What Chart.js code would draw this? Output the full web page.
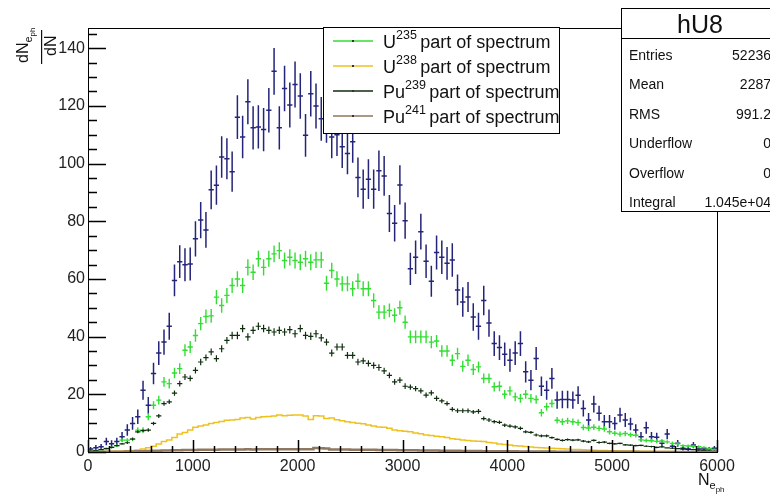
<!DOCTYPE html>
<html>
<head>
<meta charset="utf-8">
<script src="https://cdn.jsdelivr.net/npm/chart.js@4.4.1/dist/chart.umd.min.js"></script>
<style>
  html, body { margin: 0; padding: 0; background: #fff; }
  #wrap { width: 770px; height: 495px; }
</style>
</head>
<body>
<div id="wrap"><canvas id="chart" width="770" height="495"></canvas></div>
<script>
// histogram binning
const xRange = [0, 6000];
const nBins = 120;
const xTicks = [0, 1000, 2000, 3000, 4000, 5000, 6000];
const yTicks = [0, 20, 40, 60, 80, 100, 120, 140];
const yMax = 147;

// hU8 (total), bin contents and errors
const totalCounts = [
  1, 1.5, 1.8, 3.6, 2.9, 3.6, 5.3, 7.6, 9.9, 12.2,
  21.4, 16.2, 27.2, 34.3, 38.1, 43.6, 59.5, 66, 64.9, 65.2,
  73.9, 80.4, 77, 90.9, 92.5, 102.3, 101.7, 97.2, 116.1, 109.2,
  121.4, 112.4, 112.7, 111.8, 118.5, 132, 112.4, 126, 120.3, 127.4,
  123.4, 109.8, 124.2, 120, 115.5, 114.8, 109.2, 110, 105.8, 103.5,
  107.6, 95.2, 91.1, 94.6, 91.1, 97.5, 95.7, 82.7, 79.3, 92.6,
  80.2, 63.5, 67.5, 76.4, 66.1, 59.2, 69.2, 67.5, 65.4, 66.6,
  56.2, 52, 53.7, 46.8, 43.6, 52.5, 44.7, 37.6, 36.2, 33.9,
  31.8, 34.3, 37.6, 27.8, 24.9, 32.4, 22.8, 21.4, 25.5, 18,
  18.2, 18.2, 18, 19.7, 15.1, 11.1, 16.6, 13.4, 10.5, 10.5,
  9.9, 12.8, 11.1, 9.7, 7.6, 5.3, 8.4, 5.3, 5.1, 3,
  6.2, 2, 3, 1.3, 1, 2.4, 1, 1, 1, 1.3
];
const totalErrors = [
  0.7, 0.9, 1.0, 1.3, 1.2, 1.3, 1.6, 2.0, 2.2, 2.5,
  3.3, 2.9, 3.7, 4.1, 4.4, 4.7, 5.5, 5.7, 5.7, 5.7,
  6.1, 6.3, 6.2, 6.7, 6.8, 7.2, 7.1, 7.0, 7.6, 7.4,
  7.8, 7.5, 7.5, 7.5, 7.7, 8.1, 7.5, 7.9, 7.8, 8.0,
  7.9, 7.4, 7.9, 7.8, 7.6, 7.6, 7.4, 7.4, 7.3, 7.2,
  7.3, 6.9, 6.8, 6.9, 6.8, 7.0, 6.9, 6.4, 6.3, 6.8,
  6.3, 5.6, 5.8, 6.2, 5.8, 5.4, 5.9, 5.8, 5.7, 5.8,
  5.3, 5.1, 5.2, 4.8, 4.7, 5.1, 4.7, 4.3, 4.3, 4.1,
  4.0, 4.1, 4.3, 3.7, 3.5, 4.0, 3.4, 3.3, 3.6, 3.0,
  3.0, 3.0, 3.0, 3.1, 2.8, 2.4, 2.9, 2.6, 2.3, 2.3,
  2.2, 2.5, 2.4, 2.2, 2.0, 1.6, 2.1, 1.6, 1.6, 1.2,
  1.8, 1.0, 1.2, 0.8, 0.7, 1.1, 0.7, 0.7, 0.7, 0.8
];

// U235 part
const u235 = [
  0.3, 0.5, 0.8, 1.2, 1.6, 2.2, 4.1, 4.1, 4.4, 7.6,
  7.6, 12.2, 16.2, 18, 24.3, 23.7, 27.4, 28.9, 35.3, 36.4,
  40.4, 44.5, 47, 47.2, 53.7, 50.8, 54.3, 57.7, 60, 57.7,
  64, 62.3, 67, 64, 67, 68.7, 69.8, 66.4, 67.5, 66.4,
  65.8, 67, 65.8, 66.6, 66.6, 58.5, 62.9, 60, 58.3, 58.3,
  56.6, 59.2, 56.6, 56.6, 52.5, 48.5, 48.5, 49.1, 47.4, 50,
  45, 39.9, 39.9, 39.9, 39.9, 38.1, 38.5, 35, 35, 31.8,
  34.1, 29.7, 31.8, 28.6, 29.5, 25.5, 25.5, 22.6, 22.8, 20,
  21.2, 19.1, 18.6, 20, 18.6, 18.2, 13.6, 15.7, 16.8, 11,
  10.5, 10.8, 10.5, 10.2, 8.5, 8.3, 8.6, 8.2, 8, 7,
  6.5, 6.2, 6.4, 6, 5.8, 4.2, 4, 3.9, 3.7, 3.8,
  3.5, 3, 2.8, 2.2, 2.1, 2, 1.8, 1.6, 1.2, 0.9
];
const u235Errors = [
  0.2, 0.2, 0.3, 0.4, 0.4, 0.5, 0.7, 0.7, 0.7, 1.0,
  1.0, 1.2, 1.4, 1.5, 1.7, 1.7, 1.8, 1.9, 2.1, 2.1,
  2.2, 2.3, 2.4, 2.4, 2.5, 2.5, 2.6, 2.6, 2.7, 2.6,
  2.8, 2.7, 2.8, 2.8, 2.8, 2.9, 2.9, 2.8, 2.8, 2.8,
  2.8, 2.8, 2.8, 2.8, 2.8, 2.6, 2.7, 2.7, 2.6, 2.6,
  2.6, 2.7, 2.6, 2.6, 2.5, 2.4, 2.4, 2.4, 2.4, 2.4,
  2.3, 2.2, 2.2, 2.2, 2.2, 2.1, 2.1, 2.0, 2.0, 2.0,
  2.0, 1.9, 2.0, 1.9, 1.9, 1.7, 1.7, 1.6, 1.7, 1.5,
  1.6, 1.5, 1.5, 1.5, 1.5, 1.5, 1.3, 1.4, 1.4, 1.1,
  1.1, 1.1, 1.1, 1.1, 1.0, 1.0, 1.0, 1.0, 1.0, 0.9,
  0.9, 0.9, 0.9, 0.8, 0.8, 0.7, 0.7, 0.7, 0.7, 0.7,
  0.6, 0.6, 0.6, 0.5, 0.5, 0.5, 0.5, 0.4, 0.4, 0.3
];

// U238 part (histogram line)
const u238 = [
  0.05, 0.08, 0.1, 0.15, 0.2, 0.25, 0.3, 0.4, 0.5, 0.7,
  1, 1.5, 2, 2.8, 3.6, 4.2, 5, 6.2, 6.8, 7.6,
  8.6, 9, 9.4, 9.9, 10.2, 10.6, 11, 11.1, 11.3, 11.8,
  12, 11.4, 12, 12.2, 12.3, 12.5, 12.8, 12.6, 12.7, 12.8,
  12.8, 12.5, 11.3, 12.6, 12.5, 11.6, 11.8, 11.2, 10.8, 10.5,
  10.2, 10, 9.8, 9.4, 9, 8.7, 8.6, 8.2, 7.6, 7.4,
  7.2, 7, 6.6, 6.3, 5.9, 5.7, 5.5, 5.3, 5, 4.6,
  4.4, 4.2, 4, 3.8, 3.7, 3.6, 3.3, 3.1, 2.8, 2.6,
  2.4, 2.2, 2.1, 1.9, 1.7, 1.6, 1.5, 1.4, 1.3, 1.2,
  1.1, 1, 0.9, 0.85, 0.8, 0.7, 0.6, 0.55, 0.5, 0.45,
  0.4, 0.38, 0.35, 0.32, 0.3, 0.28, 0.25, 0.22, 0.2, 0.18,
  0.16, 0.15, 0.13, 0.12, 0.1, 0.09, 0.08, 0.07, 0.06, 0.05
];

// Pu239 part
const pu239 = [
  0.3, 0.5, 0.8, 1.2, 1.6, 2.2, 2.8, 3.2, 4.5, 7,
  7.4, 7.6, 9.9, 12.5, 16.8, 17.4, 20.4, 23.7, 26, 25.5,
  28.3, 31.2, 32.7, 34.7, 32.4, 35.8, 38.7, 40.4, 40.4, 42.8,
  39.9, 42.2, 43.6, 42.8, 42.2, 41.6, 42.2, 41.6, 42.4, 41,
  42.8, 40.4, 40.1, 41, 39.6, 38.1, 34.3, 36.4, 36.4, 33.5,
  33.5, 31.2, 31.6, 30.7, 30, 29.3, 28.1, 26.6, 24.3, 24.9,
  22.8, 22.5, 22, 21.2, 19.7, 20.5, 18.6, 17.7, 16.8, 14.8,
  14.3, 14.3, 14.3, 13.9, 14.1, 11.6, 11.1, 10.5, 10.3, 9.3,
  9, 8.7, 8.2, 7, 6.8, 5.9, 5.6, 5.6, 5, 4.4,
  4, 4.3, 4.1, 4.2, 3.8, 3.5, 4, 3.3, 3.4, 3,
  2.8, 3, 2.5, 2.4, 2.2, 2.3, 2, 1.9, 1.6, 1.8,
  1.4, 1.3, 1.2, 1, 0.9, 0.8, 0.6, 0.5, 0.4, 0.3
];
const pu239Errors = [
  0.1, 0.1, 0.2, 0.2, 0.3, 0.3, 0.3, 0.4, 0.4, 0.5,
  0.5, 0.6, 0.6, 0.7, 0.8, 0.8, 0.9, 1.0, 1.0, 1.0,
  1.1, 1.1, 1.1, 1.2, 1.1, 1.2, 1.2, 1.3, 1.3, 1.3,
  1.3, 1.3, 1.3, 1.3, 1.3, 1.3, 1.3, 1.3, 1.3, 1.3,
  1.3, 1.3, 1.3, 1.3, 1.3, 1.2, 1.2, 1.2, 1.2, 1.2,
  1.2, 1.1, 1.1, 1.1, 1.1, 1.1, 1.1, 1.0, 1.0, 1.0,
  1.0, 0.9, 0.9, 0.9, 0.9, 0.9, 0.9, 0.8, 0.8, 0.8,
  0.8, 0.8, 0.8, 0.7, 0.8, 0.7, 0.7, 0.6, 0.6, 0.6,
  0.6, 0.6, 0.6, 0.5, 0.5, 0.5, 0.5, 0.5, 0.4, 0.4,
  0.4, 0.4, 0.4, 0.4, 0.4, 0.4, 0.4, 0.4, 0.4, 0.3,
  0.3, 0.3, 0.3, 0.3, 0.3, 0.3, 0.3, 0.3, 0.3, 0.3,
  0.2, 0.2, 0.2, 0.2, 0.2, 0.2, 0.2, 0.1, 0.1, 0.1
];

// Pu241 part (histogram line)
const pu241 = [
  0.02, 0.03, 0.04, 0.05, 0.07, 0.09, 0.12, 0.15, 0.2, 0.25,
  0.3, 0.35, 0.4, 0.45, 0.5, 0.55, 0.6, 0.65, 0.68, 0.7,
  0.72, 0.75, 0.78, 0.8, 0.82, 0.84, 0.86, 0.88, 0.9, 0.9,
  0.92, 0.9, 0.93, 0.92, 0.94, 0.95, 0.93, 0.95, 0.94, 0.93,
  0.95, 0.92, 0.93, 1.4, 1.3, 1.2, 0.9, 0.88, 0.86, 0.84,
  0.82, 0.8, 0.78, 0.76, 0.74, 0.72, 0.7, 0.68, 0.66, 0.64,
  0.62, 0.6, 0.57, 0.55, 0.52, 0.5, 0.48, 0.46, 0.44, 0.42,
  0.4, 0.38, 0.36, 0.34, 0.32, 0.3, 0.28, 0.27, 0.26, 0.25,
  0.24, 0.22, 0.2, 0.19, 0.18, 0.17, 0.16, 0.15, 0.14, 0.13,
  0.12, 0.11, 0.1, 0.1, 0.09, 0.09, 0.08, 0.08, 0.07, 0.07,
  0.06, 0.06, 0.05, 0.05, 0.05, 0.04, 0.04, 0.04, 0.03, 0.03,
  0.03, 0.03, 0.02, 0.02, 0.02, 0.02, 0.01, 0.01, 0.01, 0.01
];

const legendEntries = [
  { base: "U", sup: "235", rest: "part of spectrum", color: "#33dd33" },
  { base: "U", sup: "238", rest: "part of spectrum", color: "#efc11f" },
  { base: "Pu", sup: "239", rest: "part of spectrum", color: "#0e2e0e" },
  { base: "Pu", sup: "241", rest: "part of spectrum", color: "#8f7760" },
];
const statsTitle = "hU8";
const statsRows = [
  ["Entries", "52236"],
  ["Mean", "2287"],
  ["RMS", "991.2"],
  ["Underflow", "0"],
  ["Overflow", "0"],
  ["Integral", "1.045e+04"],
];

const FONT = "'Liberation Sans', Arial, Helvetica, sans-serif";
const binWidth = (xRange[1] - xRange[0]) / nBins;

function crossData(values) {
    return values.map((v, i) => ({ x: xRange[0] + (i + 0.5) * binWidth, y: v }));
}

function stepData(values) {
    const pts = [];
    values.forEach((v, i) => {
        const lo = xRange[0] + i * binWidth;
        pts.push({ x: lo, y: v }, { x: lo + binWidth, y: v });
    });
    return pts;
}

// ROOT style error crosses: horizontal = bin width, vertical = +-error
const crosses = {
    id: "crosses",
    afterDatasetDraw(chart, args) {
        const ds = chart.data.datasets[args.index];
        if (!ds.errors) return;
        const { ctx, chartArea, scales } = chart;
        ctx.save();
        ctx.beginPath();
        ctx.rect(chartArea.left, chartArea.top, chartArea.right - chartArea.left, chartArea.bottom - chartArea.top);
        ctx.clip();
        ctx.strokeStyle = ds.borderColor;
        ctx.lineWidth = ds.crossWidth || 1;
        ctx.beginPath();
        ds.data.forEach((p, i) => {
            const px = scales.x.getPixelForValue(p.x);
            const py = scales.y.getPixelForValue(p.y);
            ctx.moveTo(scales.x.getPixelForValue(p.x - binWidth / 2), py);
            ctx.lineTo(scales.x.getPixelForValue(p.x + binWidth / 2), py);
            ctx.moveTo(px, scales.y.getPixelForValue(p.y - ds.errors[i]));
            ctx.lineTo(px, scales.y.getPixelForValue(p.y + ds.errors[i]));
        });
        ctx.stroke();
        ctx.restore();
    },
};

function subText(ctx, parts, x, y) {
    // parts: [text, size, dy]
    parts.forEach(([t, size, dy]) => {
        ctx.font = size + "px " + FONT;
        ctx.fillText(t, x, y + dy);
        x += ctx.measureText(t).width;
    });
    return x;
}

// frame, with axis ticks pointing into it as ROOT draws them
const rootTicks = {
    id: "rootTicks",
    afterDraw(chart) {
        const ctx = chart.ctx;
        const a = chart.chartArea;
        const xs = chart.scales.x, ys = chart.scales.y;
        ctx.save();
        ctx.strokeStyle = "#000";
        ctx.lineWidth = 1;
        ctx.strokeRect(Math.round(a.left) + 0.5, Math.round(a.top) + 0.5,
            Math.round(a.right - a.left), Math.round(a.bottom - a.top));
        ctx.lineWidth = 1.5;
        ctx.beginPath();
        for (let k = 0; k * 5 <= yMax; k++) {
            const py = Math.round(ys.getPixelForValue(k * 5)) + 0.5;
            ctx.moveTo(a.left, py);
            ctx.lineTo(a.left + (k % 4 === 0 ? 18 : 9), py);
        }
        for (let k = 0; k * 200 <= xRange[1]; k++) {
            const px = Math.round(xs.getPixelForValue(k * 200)) + 0.5;
            ctx.moveTo(px, a.bottom);
            ctx.lineTo(px, a.bottom - (k % 5 === 0 ? 12 : 6));
        }
        ctx.stroke();
        ctx.restore();
    },
};

const overlays = {
    id: "overlays",
    afterDraw(chart) {
        const ctx = chart.ctx;
        ctx.save();
        ctx.fillStyle = "#111";
        ctx.textBaseline = "alphabetic";
        ctx.textAlign = "left";

        // y axis title dN_{e_ph}/dN, rotated
        ctx.save();
        ctx.rotate(-Math.PI / 2);
        subText(ctx, [["dN", 16, 0], ["e", 11, 4], ["ph", 8, 7]], -63, 28);
        ctx.font = "16px " + FONT;
        ctx.fillText("dN", -56, 56);
        ctx.restore();
        ctx.fillRect(41, 30, 1.2, 34);

        // x axis title N_{e_ph}
        subText(ctx, [["N", 16, 0], ["e", 11, 4], ["ph", 8, 7]], 698, 485);

        // legend box
        ctx.fillStyle = "#fff";
        ctx.fillRect(324, 28, 235, 105);
        ctx.strokeStyle = "#000";
        ctx.lineWidth = 1;
        ctx.strokeRect(323.5, 27.5, 236, 106);
        legendEntries.forEach((e, i) => {
            const cy = 41 + i * 25;
            ctx.strokeStyle = e.color;
            ctx.lineWidth = 1.5;
            ctx.beginPath();
            ctx.moveTo(333, cy);
            ctx.lineTo(373, cy);
            ctx.stroke();
            ctx.fillStyle = "#333";
            ctx.fillRect(352, cy - 1, 2, 2);
            ctx.fillStyle = "#111";
            subText(ctx, [[e.base, 18, 0], [e.sup + " ", 12.5, -8.5], [e.rest, 18, 0]], 383, cy + 6.5);
        });

        // stats box
        ctx.fillStyle = "#fff";
        ctx.fillRect(622, 8, 160, 204);
        ctx.strokeStyle = "#000";
        ctx.lineWidth = 1;
        ctx.strokeRect(621.5, 8.5, 160, 203);
        ctx.beginPath();
        ctx.moveTo(622, 38.5);
        ctx.lineTo(772, 38.5);
        ctx.stroke();
        ctx.fillStyle = "#111";
        ctx.textAlign = "center";
        ctx.font = "25px " + FONT;
        ctx.fillText(statsTitle, 700, 33);
        ctx.font = "14px " + FONT;
        statsRows.forEach(([k, v], i) => {
            const by = 60 + i * 29.4;
            ctx.textAlign = "left";
            ctx.fillText(k, 629, by);
            ctx.textAlign = "right";
            ctx.fillText(v, 771, by);
        });
        ctx.restore();
    },
};

new Chart(document.getElementById("chart"), {
    type: "scatter",
    data: {
        datasets: [
            {
                label: "hU8",
                data: crossData(totalCounts),
                errors: totalErrors,
                borderColor: "#24247a",
                crossWidth: 1.5,
                pointRadius: 0,
                showLine: false,
                order: 5,
            },
            {
                label: "U235 part of spectrum",
                data: crossData(u235),
                errors: u235Errors,
                borderColor: "#33dd33",
                crossWidth: 1.4,
                pointRadius: 0,
                showLine: false,
                order: 4,
            },
            {
                label: "U238 part of spectrum",
                data: stepData(u238),
                borderColor: "#efc11f",
                borderWidth: 1.5,
                pointRadius: 0,
                showLine: true,
                order: 3,
            },
            {
                label: "Pu239 part of spectrum",
                data: crossData(pu239),
                errors: pu239Errors,
                borderColor: "#0e2e0e",
                crossWidth: 1.2,
                pointRadius: 0,
                showLine: false,
                order: 2,
            },
            {
                label: "Pu241 part of spectrum",
                data: stepData(pu241),
                borderColor: "#8f7760",
                borderWidth: 2.5,
                pointRadius: 0,
                showLine: true,
                order: 1,
            },
        ],
    },
    options: {
        responsive: false,
        animation: false,
        devicePixelRatio: 1,
        layout: { padding: { left: 18, top: 28, right: 53, bottom: 0 } },
        plugins: {
            legend: { display: false },
            tooltip: { enabled: false },
        },
        scales: {
            x: {
                type: "linear",
                min: xRange[0],
                max: xRange[1],
                grid: { display: false, drawTicks: false },
                border: { display: false },
                ticks: {
                    font: { family: FONT, size: 16 },
                    color: "#222",
                    padding: 5,
                    maxRotation: 0,
                    callback: (v) => String(v),
                },
                afterBuildTicks: (s) => { s.ticks = xTicks.map((v) => ({ value: v })); },
                afterFit: (s) => { s.height = 43; },
            },
            y: {
                type: "linear",
                min: 0,
                max: yMax,
                grid: { display: false, drawTicks: false },
                border: { display: false },
                ticks: {
                    font: { family: FONT, size: 16 },
                    color: "#222",
                    padding: 3,
                    callback: (v) => String(v),
                },
                afterBuildTicks: (s) => { s.ticks = yTicks.map((v) => ({ value: v })); },
                afterFit: (s) => { s.width = 70; },
            },
        },
    },
    plugins: [crosses, rootTicks, overlays],
});
</script>
</body>
</html>
